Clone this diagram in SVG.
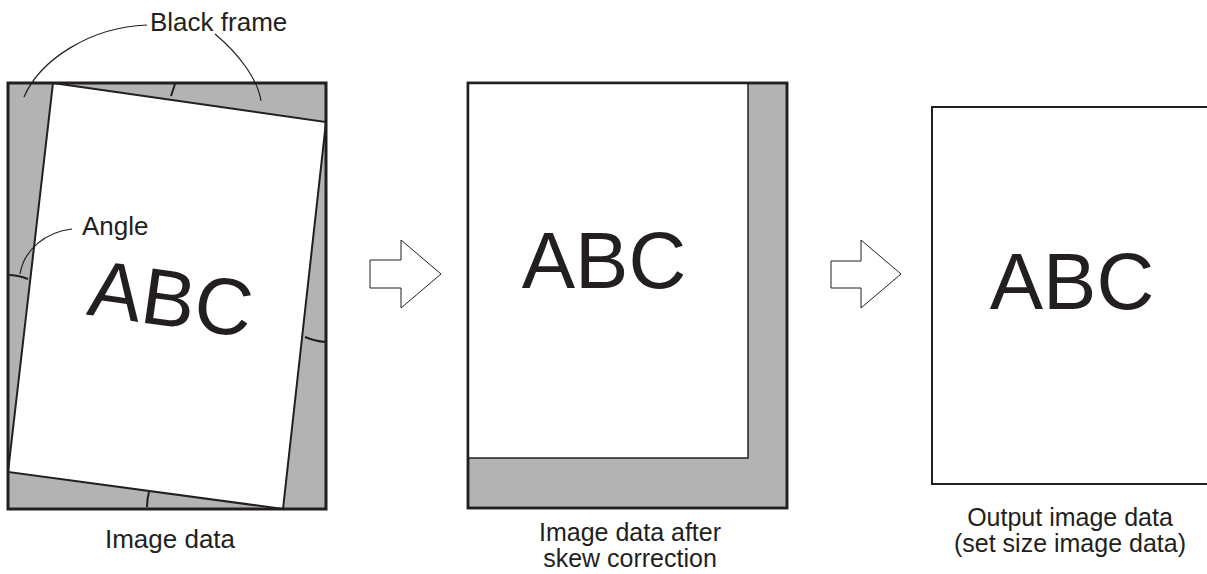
<svg xmlns="http://www.w3.org/2000/svg" width="1207" height="574" viewBox="0 0 1207 574">
<style>
text{font-family:"Liberation Sans",Arial,sans-serif;fill:#231f20}
.lbl{font-size:26px}
.lbl2{font-size:25px}
.big{font-size:80px}
.gray{fill:#b3b3b3}
.thin{fill:none;stroke:#231f20;stroke-width:1.2}
.tick{fill:none;stroke:#231f20;stroke-width:2}
.edge{fill:#fff;stroke:#231f20;stroke-width:2}
.arrow{fill:#fff;stroke:#231f20;stroke-width:1}
</style>
<rect width="1207" height="574" fill="#fff"/>
<g id="image-data">
<rect x="8" y="83" width="318" height="426" class="gray"/>
<polygon points="53,83 326,122 283,509 8,472" class="edge"/>
<rect x="8" y="83" width="318" height="426" fill="none" stroke="#231f20" stroke-width="3"/>
<path class="tick" d="M175,84 Q173,90 171,96 M8,275 Q18,275 28,279 M305,337 Q314,341 326,342 M149,492 Q147,499 147,507"/>
<text class="big" text-anchor="middle" transform="translate(167,326) rotate(8)">ABC</text>
<text class="lbl" x="170" y="548" text-anchor="middle">Image data</text>
</g>
<g id="black-frame-label">
<text class="lbl" x="150" y="31">Black frame</text>
</g>
<g id="angle-label">
<text class="lbl" x="82" y="235">Angle</text>
</g>
<g id="skew-corrected">
<rect x="468" y="83" width="319" height="425" class="gray" stroke="#231f20" stroke-width="2.5"/>
<rect x="468" y="83" width="280" height="375" fill="#fff" stroke="#231f20" stroke-width="1.5"/>
<rect x="468" y="83" width="319" height="425" fill="none" stroke="#231f20" stroke-width="2.5"/>
<text class="big" x="604" y="288" text-anchor="middle">ABC</text>
<text class="lbl2" x="630" y="541" text-anchor="middle">Image data after</text>
<text class="lbl2" x="630" y="567" text-anchor="middle">skew correction</text>
</g>
<g id="output">
<rect x="932" y="107" width="290" height="377" fill="#fff" stroke="#231f20" stroke-width="2"/>
<text class="big" x="1072" y="309" text-anchor="middle">ABC</text>
<text class="lbl2" x="1070" y="526" text-anchor="middle">Output image data</text>
<text class="lbl2" x="1070" y="552" text-anchor="middle">(set size image data)</text>
</g>
<g id="connectors">
<polygon class="arrow" points="370,260 401,260 401,240 441,274 401,308 401,288 370,288"/>
<polygon class="arrow" points="831,261 861,261 861,240 901,274 861,308 861,288 831,288"/>
<path class="thin" d="M147,25 C90,27 40,60 24,97"/>
<path class="thin" d="M215,34 C240,55 258,80 261,101"/>
<path class="thin" d="M72,229 C45,232 24,250 20,274"/>
</g>
</svg>
